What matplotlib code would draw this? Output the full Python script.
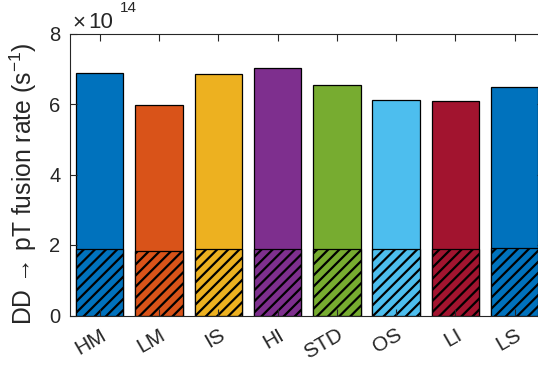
import matplotlib
matplotlib.use("Agg")
import matplotlib.pyplot as plt
import matplotlib.transforms as mtransforms
import numpy as np

plt.rcParams['font.family'] = ['Liberation Sans', 'DejaVu Sans']
plt.rcParams['mathtext.fontset'] = 'custom'
plt.rcParams['mathtext.rm'] = 'Liberation Sans'
plt.rcParams['mathtext.it'] = 'Liberation Sans:italic'
plt.rcParams['hatch.linewidth'] = 1.6

# data (units of 1e14 s^-1)
cases = ['HM', 'LM', 'IS', 'HI', 'STD', 'OS', 'LI', 'LS']
total_rate = [6.88, 5.98, 6.84, 7.01, 6.55, 6.12, 6.09, 6.47]
hatched_rate = [1.88, 1.84, 1.88, 1.88, 1.89, 1.89, 1.90, 1.91]
colors = ['#0072BD', '#D95319', '#EDB120', '#7E2F8E', '#77AC30', '#4DBEEE', '#A2142F', '#0072BD']

fig = plt.figure(figsize=(5.38, 3.66), dpi=100)
ax = fig.add_axes([70/538, 50.5/366, 474.4/538, 282/366])

x = np.arange(1, len(cases) + 1)
ax.bar(x, total_rate, width=0.8, color=colors, edgecolor='k', linewidth=0.9)
ax.bar(x, hatched_rate, width=0.8, color=colors, edgecolor='k', linewidth=0.9, hatch='///')

ax.set_xlim(0.5, 8.5)
ax.set_ylim(0, 8)
ax.set_yticks([0, 2, 4, 6, 8])
ax.set_xticks(x)
ax.set_xticklabels(cases, rotation=30, ha='right', va='top', rotation_mode='anchor', fontsize=15)
px = mtransforms.ScaledTranslation
off = px(5/100, -12/100, fig.dpi_scale_trans)
for lab in ax.get_xticklabels():
    lab.set_transform(lab.get_transform() + off)

ax.tick_params(direction='in', length=5, width=0.8, colors='#262626', labelsize=14.5,
               top=True, right=True, pad=7)
ax.tick_params(axis='x', labelsize=15)
for s in ax.spines.values():
    s.set_color('#262626')
    s.set_linewidth(0.8)

ax.set_ylabel('DD → pT fusion rate (s$^{-1}$)', fontsize=17.8, color='#262626')
ax.yaxis.set_label_coords(-31/474.4, (315.5 - 183.5)/282)

# exponent label drawn by hand
ax.text(0.0, 1.0, '×', transform=ax.transAxes + px(2/100, 5.5/100, fig.dpi_scale_trans),
        fontsize=16, color='#262626', ha='left', va='baseline')
ax.text(0.0, 1.0, '10', transform=ax.transAxes + px(18/100, 5.5/100, fig.dpi_scale_trans),
        fontsize=16, color='#262626', ha='left', va='baseline')
ax.text(0.0, 1.0, '14', transform=ax.transAxes + px(50/100, 21.5/100, fig.dpi_scale_trans),
        fontsize=11, color='#262626', ha='left', va='baseline')

fig.savefig('out.png', dpi=100)
